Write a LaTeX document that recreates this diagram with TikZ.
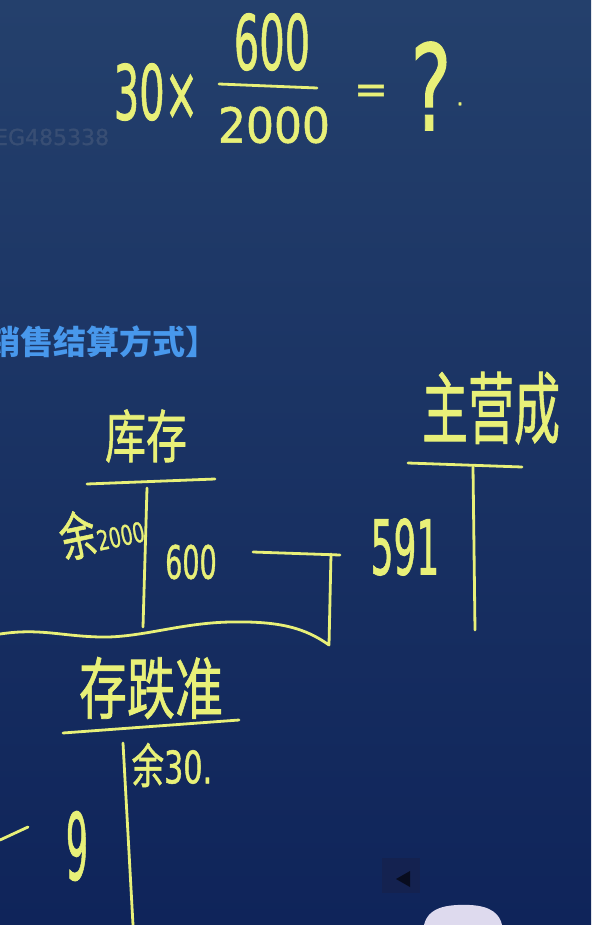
\documentclass[tikz,border=0pt]{standalone}
\usepackage{fontspec}
\setmainfont[FakeBold=1.2]{DejaVu Sans}
\newfontfamily\cjk[FakeBold=1.2]{Noto Sans CJK SC}
\newfontfamily\cjkhead{Noto Sans CJK SC}
\definecolor{bgtop}{RGB}{36,64,108}
\definecolor{bgbot}{RGB}{15,36,90}
\definecolor{hand}{RGB}{232,240,120}
\definecolor{headc}{RGB}{72,152,236}
\definecolor{wmc}{RGB}{56,78,116}
\newcommand{\fs}[1]{\fontsize{#1}{#1}\selectfont}
\begin{document}
\begin{tikzpicture}[x=1pt,y=-1pt,
  ink/.style={draw=hand,line width=2.8pt,line cap=round,line join=round},
  hw/.style={text=hand,inner sep=0pt}]
\shade[top color=bgtop,bottom color=bgbot] (0,0) rectangle (591,925);
\useasboundingbox (0,0) rectangle (591,925);
% watermark and heading
\node[text=wmc,inner sep=0pt,anchor=west,font=\fs{22}] (wm) at (-6,137) {EG485338};
\node[text=headc,inner sep=0pt,anchor=east,font=\cjkhead\bfseries\fs{33}] (head) at (219,342) {销售结算方式】};
% formula
\node[hw,font=\fs{40}] (m30) at (156,92) {\scalebox{1}[1.9]{30×}};
\coordinate (barl) at (219,84);
\coordinate (barr) at (317,88);
\draw[ink] (barl) -- (barr);
\node[hw,font=\fs{40}] (num) at (272,42) {\scalebox{1}[1.9]{600}};
\node[hw,font=\fs{44}] (den) at (274,125) {\scalebox{1}[1.1]{2000}};
\node[hw,font=\fs{40}] (eq) at (371,94) {=};
\node[hw,font=\fs{70}] (qm) at (431,86) {\scalebox{1.1}[1.7]{?}};
\node[hw,font=\fs{22}] (dot) at (460,104) {.};
% T-account 库存
\node[hw,font=\cjk\fs{41}] (kc) at (146,436) {\scalebox{1}[1.4]{库存}};
\coordinate (kcl) at (87,484);
\coordinate (kcr) at (215,479);
\coordinate (kct) at (147,488);
\coordinate (kcb) at (143,627);
\draw[ink] (kcl) -- (kcr);
\draw[ink] (kct) -- (kcb);
\node[hw,rotate=12] (kcbal) at (101,530) {\scalebox{0.9}[1.3]{{\cjk\fs{40}余}{\fs{21}2000}}};
\node[hw,font=\fs{27}] (kc600) at (191,562) {\scalebox{1}[1.7]{600}};
% bracket connector
\coordinate (c1) at (253,552);
\coordinate (c2) at (340,555);
\coordinate (c3) at (331,554);
\coordinate (c4) at (329,645);
\coordinate (c5) at (0,634);
\draw[ink] (c1) -- (c2);
\draw[ink] (c3) -- (c4) .. controls (305,628) and (280,621) .. (230,622)
  .. controls (180,623) and (140,638) .. (100,637)
  .. controls (60,636) and (40,628) .. (c5);
% T-account 主营成
\node[hw,font=\cjk\fs{46}] (zy) at (491,408) {\scalebox{1}[1.7]{主营成}};
\coordinate (zyl) at (408,463);
\coordinate (zyr) at (522,467);
\coordinate (zyt) at (473,467);
\coordinate (zyb) at (475,630);
\draw[ink] (zyl) -- (zyr);
\draw[ink] (zyt) -- (zyb);
\node[hw,font=\fs{36}] (v591) at (405,547) {\scalebox{1}[2.1]{591}};
% T-account 存跌准
\node[hw,font=\cjk\fs{48}] (cd) at (151,688) {\scalebox{1}[1.4]{存跌准}};
\coordinate (cdl) at (63,733);
\coordinate (cdr) at (239,720);
\coordinate (cdt) at (123,743);
\coordinate (cdb) at (133,925);
\draw[ink] (cdl) -- (cdr);
\draw[ink] (cdt) -- (cdb);
\node[hw] (cdbal) at (172,765) {\scalebox{0.95}[1.4]{{\cjk\fs{34}余}{\fs{32}30.}}};
\coordinate (d1) at (0,840);
\coordinate (d2) at (28,827);
\draw[ink] (d1) -- (d2);
\node[hw,font=\fs{44}] (nine) at (77,846) {\scalebox{0.8}[2.1]{9}};
% overlay at bottom
\fill[fill={rgb,255:red,20;green,34;blue,80}] (382,858) rectangle (420,893);
\fill[fill={rgb,255:red,8;green,12;blue,30}] (396,879) -- (410,871) -- (410,887) -- cycle;
\fill[fill={rgb,255:red,222;green,218;blue,238}] (424,925) .. controls (428,908) and (445,904) .. (470,905) .. controls (492,906) and (500,915) .. (502,925) -- cycle;
\end{tikzpicture}
\end{document}
